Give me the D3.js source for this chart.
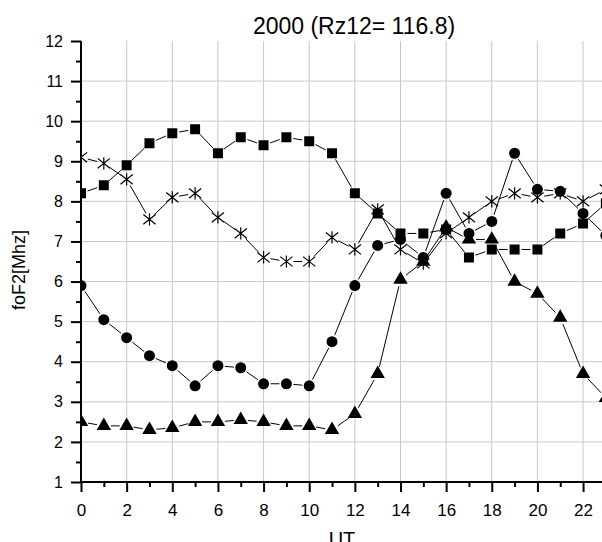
<html>
<head>
<meta charset="utf-8">
<script src="https://d3js.org/d3.v7.min.js"></script>
<style>
  body { margin: 0; background: #fff; }
  text { font-family: "Liberation Sans", Arial, sans-serif; fill: #000; }
</style>
</head>
<body>
<div id="chartContainer"></div>
<script type="text/javascript">

  // hourly foF2 values
  var hours = [0,1,2,3,4,5,6,7,8,9,10,11,12,13,14,15,16,17,18,19,20,21,22,23];
  var squares   = [8.2,8.4,8.9,9.45,9.7,9.8,9.2,9.6,9.4,9.6,9.5,9.2,8.2,7.7,7.2,7.2,7.3,6.6,6.8,6.8,6.8,7.2,7.45,7.95];
  var stars     = [9.1,8.95,8.55,7.55,8.1,8.2,7.6,7.2,6.6,6.5,6.5,7.1,6.8,7.8,6.8,6.45,7.2,7.6,8.0,8.2,8.1,8.2,8.0,8.3];
  var circles   = [5.9,5.05,4.6,4.15,3.9,3.4,3.9,3.85,3.45,3.45,3.4,4.5,5.9,6.9,7.05,6.6,8.2,7.2,7.5,9.2,8.3,8.25,7.7,7.15];
  var triangles = [2.5,2.4,2.4,2.3,2.35,2.5,2.5,2.55,2.5,2.4,2.4,2.3,2.7,3.7,6.05,6.5,7.35,7.05,7.05,6.0,5.7,5.1,3.7,3.1];

  var xTicks = [0,2,4,6,8,10,12,14,16,18,20,22];
  var yTicks = [1,2,3,4,5,6,7,8,9,10,11,12];
  var titleText = "2000 (Rz12= 116.8)";

  function draw() {
    var W = 602, H = 542;
    // x runs to 24 h, the picture is cut just after 23
    var pLeft = 81, pTop = 41, pRight = 628.7, pBottom = 482;

    var svg = d3.select("#chartContainer").append("svg")
      .attr("width", W).attr("height", H);

    var x = d3.scaleLinear().domain([0, 24]).range([pLeft, pRight]);
    var y = d3.scaleLinear().domain([1, 12]).range([pBottom, pTop]);

    svg.append("clipPath").attr("id", "plotClip")
      .append("rect").attr("x", pLeft).attr("y", pTop - 8)
      .attr("width", pRight - pLeft).attr("height", pBottom - pTop + 8);

    // grid
    var grid = svg.append("g").attr("stroke", "#c8c8c8").attr("stroke-width", 1);
    grid.selectAll("line.v").data(xTicks.filter(function(d){ return d > 0; })).enter()
      .append("line")
      .attr("x1", function(d){ return x(d); }).attr("x2", function(d){ return x(d); })
      .attr("y1", pTop).attr("y2", pBottom);
    grid.selectAll("line.h").data(yTicks.filter(function(d){ return d > 1 && d < 12; })).enter()
      .append("line")
      .attr("y1", function(d){ return y(d); }).attr("y2", function(d){ return y(d); })
      .attr("x1", pLeft).attr("x2", pRight);

    // axes with minor ticks
    var gx = svg.append("g").attr("transform", "translate(0," + pBottom + ")")
      .call(d3.axisBottom(x).tickValues(xTicks).tickSize(10).tickPadding(12));
    gx.selectAll(".tick line").attr("stroke-width", 2);
    gx.select(".domain").remove();
    gx.selectAll("text").style("font-size", "17px");
    var gx2 = svg.append("g").attr("transform", "translate(0," + pBottom + ")")
      .call(d3.axisBottom(x).tickValues(d3.range(1, 24, 2)).tickSize(5).tickFormat(""));
    gx2.selectAll(".tick line").attr("stroke-width", 2);
    gx2.select(".domain").remove();

    var gy = svg.append("g").attr("transform", "translate(" + pLeft + ",0)")
      .call(d3.axisLeft(y).tickValues(yTicks).tickSize(10).tickPadding(8));
    gy.selectAll(".tick line").attr("stroke-width", 2);
    gy.select(".domain").remove();
    gy.selectAll("text").style("font-size", "16px");
    var gy2 = svg.append("g").attr("transform", "translate(" + pLeft + ",0)")
      .call(d3.axisLeft(y).tickValues(d3.range(1.5, 12, 1)).tickSize(5).tickFormat(""));
    gy2.selectAll(".tick line").attr("stroke-width", 2);
    gy2.select(".domain").remove();

    svg.append("line").attr("x1", pLeft).attr("x2", pLeft).attr("y1", pTop).attr("y2", pBottom + 1)
      .attr("stroke", "#000").attr("stroke-width", 2);
    svg.append("line").attr("x1", pLeft - 1).attr("x2", pRight).attr("y1", pBottom).attr("y2", pBottom)
      .attr("stroke", "#000").attr("stroke-width", 2);

    // series: line segments stop short of the markers
    var plot = svg.append("g").attr("clip-path", "url(#plotClip)");

    var star = {
      draw: function(ctx, size) {
        var r = Math.sqrt(size) / 2;
        ctx.moveTo(0, -r); ctx.lineTo(0, r);
        ctx.moveTo(-r, -r * 0.8); ctx.lineTo(r, r * 0.8);
        ctx.moveTo(-r, r * 0.8); ctx.lineTo(r, -r * 0.8);
      }
    };

    var series = [
      { values: squares,   type: d3.symbolSquare,   size: 100, gap: 7 },
      { values: stars,     type: star,              size: 150, gap: 7 },
      { values: circles,   type: d3.symbolCircle,   size: 95,  gap: 7 },
      { values: triangles, type: d3.symbolTriangle, size: 90,  gap: 7 }
    ];

    series.forEach(function(s) {
      var pts = hours.map(function(h, i){ return [x(h), y(s.values[i])]; });
      var segs = [];
      for (var i = 0; i < pts.length - 1; i++) {
        var dx = pts[i+1][0] - pts[i][0], dy = pts[i+1][1] - pts[i][1];
        var d = Math.sqrt(dx*dx + dy*dy);
        if (d > 2 * s.gap + 1) {
          var ux = dx / d, uy = dy / d;
          segs.push([pts[i][0] + ux*s.gap, pts[i][1] + uy*s.gap,
                     pts[i+1][0] - ux*s.gap, pts[i+1][1] - uy*s.gap]);
        }
      }
      plot.append("g").selectAll("line").data(segs).enter().append("line")
        .attr("x1", function(d){ return d[0]; }).attr("y1", function(d){ return d[1]; })
        .attr("x2", function(d){ return d[2]; }).attr("y2", function(d){ return d[3]; })
        .attr("stroke", "#000").attr("stroke-width", 1);

      plot.append("g").selectAll("path").data(pts).enter().append("path")
        .attr("transform", function(d){ return "translate(" + d[0] + "," + d[1] + ")"; })
        .attr("d", d3.symbol().type(s.type).size(s.size))
        .attr("fill", s.type === star ? "none" : "#000")
        .attr("stroke", "#000")
        .attr("stroke-width", s.type === star ? 1.2 : 0);
    });

    // titles
    svg.append("text").attr("x", 354).attr("y", 34).attr("text-anchor", "middle")
      .style("font-size", "23px").text(titleText);
    svg.append("text").attr("transform", "translate(25,270) rotate(-90)")
      .attr("text-anchor", "middle").style("font-size", "18px").text("foF2[Mhz]");
    svg.append("text").attr("x", 342).attr("y", 546).attr("text-anchor", "middle")
      .style("font-size", "20px").text("UT");
  }

  draw();
</script>
</body>
</html>
